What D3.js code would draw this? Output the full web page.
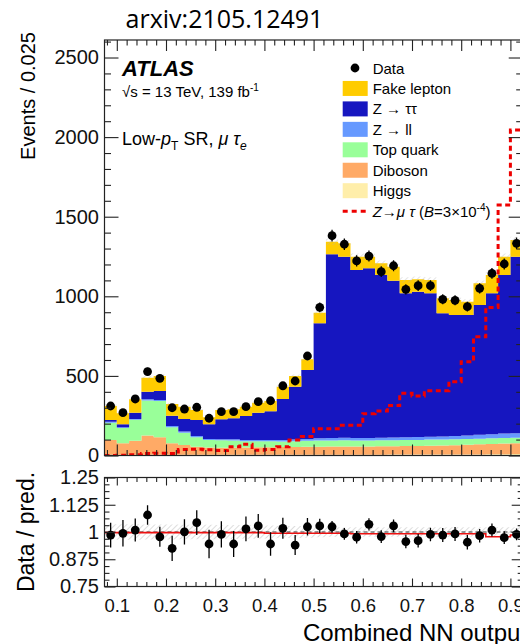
<!DOCTYPE html>
<html>
<head>
<meta charset="utf-8">
<script src="https://cdn.jsdelivr.net/npm/d3@7"></script>
<style>
body { margin: 0; background: #fff; }
svg { display: block; font-family: "Liberation Sans", Arial, sans-serif; }
</style>
</head>
<body>
<svg width="520" height="644"></svg>
<script>
// bins of the combined NN output (low edges, width 0.025)
const binLow = [0.075, 0.1, 0.125, 0.15, 0.175, 0.2, 0.225, 0.25, 0.275, 0.3, 0.325, 0.35, 0.375, 0.4, 0.425, 0.45, 0.475,
	0.5, 0.525, 0.55, 0.575, 0.6, 0.625, 0.65, 0.675, 0.7, 0.725, 0.75, 0.775, 0.8, 0.825, 0.85, 0.875, 0.9];
const binWidth = 0.025;

// stacked backgrounds, bottom to top
const higgs    = [4, 4, 4, 5, 5, 4, 4, 4, 4, 4, 4, 4, 4, 5, 5, 5, 5, 5, 5, 5, 5, 5, 5, 6, 6, 6, 6, 6, 7, 7, 7, 8, 8, 9];
const diboson  = [93, 73, 89, 120, 110, 73, 62, 51, 47, 45, 46, 46, 48, 47, 48, 49, 50, 50, 51, 51, 52, 52, 53, 52, 54, 54, 56, 57, 58, 60, 63, 64, 67, 68];
const topQuark = [108, 95, 131, 220, 227, 101, 77, 60, 47, 47, 45, 40, 38, 38, 35, 36, 37, 39, 39, 40, 38, 38, 38, 38, 38, 38, 38, 37, 37, 37, 36, 36, 35, 35];
const zll      = [7, 5, 5, 8, 7, 7, 7, 7, 6, 6, 7, 7, 7, 8, 10, 10, 11, 14, 15, 16, 15, 15, 16, 17, 17, 18, 18, 20, 20, 22, 24, 26, 28, 28];
const ztt      = [11, 19, 40, 48, 56, 65, 79, 101, 92, 125, 132, 151, 172, 180, 257, 332, 434, 722, 1154, 1137, 1055, 1066, 1022, 985, 904, 913, 901, 773, 761, 757, 815, 885, 996, 1109];
const fake     = [88, 69, 84, 88, 94, 73, 78, 63, 44, 59, 56, 59, 63, 64, 77, 67, 68, 67, 79, 84, 84, 73, 73, 88, 83, 78, 83, 94, 94, 83, 137, 115, 115, 105];

const data = [311, 269, 355, 527, 485, 300, 292, 303, 234, 275, 275, 307, 338, 344, 438, 468, 625, 931, 1381, 1327,
	1222, 1253, 1155, 1192, 1044, 1067, 1067, 981, 975, 935, 1050, 1144, 1203, 1333];

// signal Z->mu tau (B = 3e-4)
const signal = [0, 2, 5, 12, 14, 12, 38, 40, 36, 32, 55, 70, 33, 38, 55, 97, 120, 168, 168, 190,
	190, 263, 280, 314, 391, 374, 407, 407, 464, 589, 746, 930, 1573, 2045];

// ratio panel
const ratio = [0.986, 0.994, 1.009, 1.078, 0.978, 0.925, 1.001, 1.043, 0.945, 0.989, 0.945, 1.014, 1.028, 0.945, 1.017, 0.940, 1.024,
	1.028, 1.024, 0.991, 0.976, 1.035, 0.979, 1.028, 0.956, 0.960, 0.989, 0.986, 0.991, 0.953, 0.983, 1.009, 0.974, 0.989];
const ratioErr = [0.057, 0.061, 0.053, 0.045, 0.046, 0.058, 0.058, 0.057, 0.065, 0.060, 0.060, 0.057, 0.054, 0.054, 0.048, 0.046, 0.040,
	0.033, 0.027, 0.027, 0.029, 0.028, 0.029, 0.029, 0.031, 0.031, 0.031, 0.032, 0.032, 0.033, 0.031, 0.030, 0.029, 0.027];
const bandErr = [0.036, 0.036, 0.035, 0.034, 0.034, 0.034, 0.033, 0.033, 0.033, 0.032, 0.032, 0.031, 0.031, 0.030, 0.028, 0.027, 0.026,
	0.024, 0.022, 0.022, 0.022, 0.022, 0.022, 0.022, 0.022, 0.022, 0.022, 0.022, 0.022, 0.022, 0.022, 0.022, 0.022, 0.022];
const redRatio = [0.997, 0.997, 0.997, 0.997, 0.997, 0.997, 0.997, 0.997, 0.997, 0.997, 0.997, 0.997, 0.997, 0.994, 0.994, 0.994, 0.994,
	0.994, 0.994, 0.994, 0.992, 0.992, 0.992, 0.992, 0.992, 0.992, 0.992, 0.992, 0.992, 0.992, 0.992, 0.978, 0.978, 0.986];

const xTicks = [0.1, 0.2, 0.3, 0.4, 0.5, 0.6, 0.7, 0.8, 0.9];
const xTickLabels = ['0.1', '0.2', '0.3', '0.4', '0.5', '0.6', '0.7', '0.8', '0.9'];
const yTicks = [0, 500, 1000, 1500, 2000, 2500];
const rTicks = [0.75, 0.875, 1, 1.125, 1.25];
const rTickLabels = ['0.75', '0.875', '1', '1.125', '1.25'];

const legendItems = [
	{ key: 'data', label: 'Data' },
	{ key: 'fake', label: 'Fake lepton', color: '#ffcc00' },
	{ key: 'ztt', label: 'Z \u2192 \u03c4\u03c4', color: '#1616c0' },
	{ key: 'zll', label: 'Z \u2192 ll', color: '#6699ff' },
	{ key: 'top', label: 'Top quark', color: '#99ff99' },
	{ key: 'diboson', label: 'Diboson', color: '#ffaa66' },
	{ key: 'higgs', label: 'Higgs', color: '#ffeeaa' },
	{ key: 'signal', label: '' }
];
const colorOf = {};
legendItems.forEach(d => { if (d.color) colorOf[d.key] = d.color; });

const frame = { left: 104.5, right: 522.7, top: 40, bottom: 455.5 };
const rFrame = { top: 477.5, bottom: 586.5 };
const ink = '#222';

const svg = d3.select('svg');

const x = d3.scaleLinear().domain([0.075, 0.925]).range([frame.left, frame.right]);
const y = d3.scaleLinear().domain([0, 2610]).range([frame.bottom, frame.top]);
const yr = d3.scaleLinear().domain([0.75, 1.25]).range([rFrame.bottom, rFrame.top]);

const defs = svg.append('defs');
defs.append('clipPath').attr('id', 'clipMain')
	.append('rect').attr('x', frame.left).attr('y', frame.top)
	.attr('width', frame.right - frame.left).attr('height', frame.bottom - frame.top);
defs.append('clipPath').attr('id', 'clipRatio')
	.append('rect').attr('x', frame.left).attr('y', rFrame.top)
	.attr('width', frame.right - frame.left).attr('height', rFrame.bottom - rFrame.top);
const hatch = defs.append('pattern').attr('id', 'hatch')
	.attr('patternUnits', 'userSpaceOnUse').attr('width', 4).attr('height', 4)
	.attr('patternTransform', 'rotate(45)');
hatch.append('line').attr('x1', 0).attr('y1', 0).attr('x2', 0).attr('y2', 4)
	.attr('stroke', '#b4b4b4').attr('stroke-width', 0.9);

// ---------- main panel ----------
const keys = ['higgs', 'diboson', 'top', 'zll', 'ztt', 'fake'];
const table = binLow.map((lo, i) => ({
	lo, higgs: higgs[i], diboson: diboson[i], top: topQuark[i], zll: zll[i], ztt: ztt[i], fake: fake[i]
}));
const series = d3.stack().keys(keys)(table);

const stepArea = (yScale) => d3.area()
	.x(p => x(p.x)).y0(p => yScale(p.y0)).y1(p => yScale(p.y1));
const steps = (lo, hi) => binLow.flatMap((b, i) => [
	{ x: b, y0: lo(i), y1: hi(i) }, { x: b + binWidth, y0: lo(i), y1: hi(i) }
]);

const main = svg.append('g').attr('clip-path', 'url(#clipMain)');
main.selectAll('path.layer').data(series).enter()
	.append('path')
	.attr('class', 'layer')
	.attr('fill', s => colorOf[s.key])
	.attr('d', s => stepArea(y)(steps(i => s[i][0], i => s[i][1])));

const total = series[series.length - 1].map(d => d[1]);
main.append('path')
	.attr('fill', 'url(#hatch)')
	.attr('opacity', 0.8)
	.attr('d', stepArea(y)(steps(i => total[i] * (1 - bandErr[i] * 0.7), i => total[i] * (1 + bandErr[i] * 0.7))));

const sigLine = d3.line().x(p => x(p[0])).y(p => y(p[1]));
main.append('path')
	.attr('fill', 'none')
	.attr('stroke', '#ee0000')
	.attr('stroke-width', 3)
	.attr('stroke-dasharray', '5,3.5')
	.attr('d', sigLine(signal.flatMap((v, i) => [[binLow[i], v], [binLow[i] + binWidth, v]])));

const dataG = main.append('g');
dataG.selectAll('line').data(data).enter().append('line')
	.attr('x1', (d, i) => x(binLow[i] + binWidth / 2))
	.attr('x2', (d, i) => x(binLow[i] + binWidth / 2))
	.attr('y1', (d, i) => y(d * (1 - ratioErr[i])))
	.attr('y2', (d, i) => y(d * (1 + ratioErr[i])))
	.attr('stroke', '#000').attr('stroke-width', 1.3);
dataG.selectAll('circle').data(data).enter().append('circle')
	.attr('cx', (d, i) => x(binLow[i] + binWidth / 2))
	.attr('cy', d => y(d))
	.attr('r', 4.4)
	.attr('fill', '#000');

// ---------- ratio panel ----------
const ratioG = svg.append('g').attr('clip-path', 'url(#clipRatio)');
ratioG.append('path')
	.attr('fill', 'url(#hatch)')
	.attr('d', stepArea(yr)(steps(i => 1 - bandErr[i], i => 1 + bandErr[i])));
ratioG.append('line')
	.attr('x1', frame.left).attr('x2', frame.right)
	.attr('y1', yr(1)).attr('y2', yr(1))
	.attr('stroke', '#333').attr('stroke-width', 1).attr('stroke-dasharray', '4,3');
const redLine = d3.line().x(p => x(p[0])).y(p => yr(p[1]));
ratioG.append('path')
	.attr('fill', 'none').attr('stroke', '#ee1111').attr('stroke-width', 1.6)
	.attr('d', redLine(redRatio.flatMap((v, i) => [[binLow[i], v], [binLow[i] + binWidth, v]])));
ratioG.selectAll('line.err').data(ratio).enter().append('line')
	.attr('class', 'err')
	.attr('x1', (d, i) => x(binLow[i] + binWidth / 2))
	.attr('x2', (d, i) => x(binLow[i] + binWidth / 2))
	.attr('y1', (d, i) => yr(d - ratioErr[i]))
	.attr('y2', (d, i) => yr(d + ratioErr[i]))
	.attr('stroke', '#000').attr('stroke-width', 1.3);
ratioG.selectAll('circle').data(ratio).enter().append('circle')
	.attr('cx', (d, i) => x(binLow[i] + binWidth / 2))
	.attr('cy', d => yr(d))
	.attr('r', 4.4)
	.attr('fill', '#000');

// ---------- axes ----------
function tickAxis(selection, axis, fontSize) {
	selection.call(axis);
	selection.attr('font-family', null).attr('font-size', null);
	selection.select('.domain').remove();
	selection.selectAll('line').attr('stroke', ink).attr('stroke-width', 1.1);
	selection.selectAll('text').attr('fill', '#111').style('font-size', fontSize + 'px');
}
const xMinor = d3.range(0.08, 0.925, 0.02).filter(v => Math.abs(v * 10 - Math.round(v * 10)) > 1e-6);
const yMinor = d3.range(0, 2610, 100).filter(v => v % 500 !== 0);
const rMinor = d3.range(0.75, 1.2501, 0.03125).filter(v => !rTicks.some(t => Math.abs(t - v) < 1e-6));

const axes = svg.append('g');
// main panel
axes.append('g').attr('transform', `translate(${frame.left},0)`)
	.call(tickAxis, d3.axisLeft(y).tickValues(yTicks).tickSize(-14).tickPadding(5.5).tickFormat(d3.format('d')), 20);
axes.append('g').attr('transform', `translate(${frame.left},0)`)
	.call(tickAxis, d3.axisLeft(y).tickValues(yMinor).tickSize(-6.5).tickFormat(''), 20);
axes.append('g').attr('transform', `translate(${frame.right},0)`)
	.call(tickAxis, d3.axisRight(y).tickValues(yTicks).tickSize(-14).tickFormat(''), 20);
axes.append('g').attr('transform', `translate(${frame.right},0)`)
	.call(tickAxis, d3.axisRight(y).tickValues(yMinor).tickSize(-6.5).tickFormat(''), 20);
axes.append('g').attr('transform', `translate(0,${frame.top})`)
	.call(tickAxis, d3.axisTop(x).tickValues(xTicks).tickSize(-11).tickFormat(''), 18);
axes.append('g').attr('transform', `translate(0,${frame.top})`)
	.call(tickAxis, d3.axisTop(x).tickValues(xMinor).tickSize(-5.5).tickFormat(''), 18);
axes.append('g').attr('transform', `translate(0,${frame.bottom})`)
	.call(tickAxis, d3.axisBottom(x).tickValues(xTicks).tickSize(-11).tickFormat(''), 18);
axes.append('g').attr('transform', `translate(0,${frame.bottom})`)
	.call(tickAxis, d3.axisBottom(x).tickValues(xMinor).tickSize(-5.5).tickFormat(''), 18);
// ratio panel
axes.append('g').attr('transform', `translate(${frame.left},0)`)
	.call(tickAxis, d3.axisLeft(yr).tickValues(rTicks).tickSize(-11).tickPadding(5.5)
		.tickFormat(d => rTickLabels[rTicks.indexOf(d)]), 20);
axes.append('g').attr('transform', `translate(${frame.left},0)`)
	.call(tickAxis, d3.axisLeft(yr).tickValues(rMinor).tickSize(-5).tickFormat(''), 20);
axes.append('g').attr('transform', `translate(${frame.right},0)`)
	.call(tickAxis, d3.axisRight(yr).tickValues(rTicks).tickSize(-11).tickFormat(''), 20);
axes.append('g').attr('transform', `translate(${frame.right},0)`)
	.call(tickAxis, d3.axisRight(yr).tickValues(rMinor).tickSize(-5).tickFormat(''), 20);
axes.append('g').attr('transform', `translate(0,${rFrame.bottom})`)
	.call(tickAxis, d3.axisBottom(x).tickValues(xTicks).tickSize(-8).tickPadding(12)
		.tickFormat(d => xTickLabels[xTicks.indexOf(d)]), 18.5);
axes.append('g').attr('transform', `translate(0,${rFrame.bottom})`)
	.call(tickAxis, d3.axisBottom(x).tickValues(xMinor).tickSize(-4.5).tickFormat(''), 18);
axes.append('g').attr('transform', `translate(0,${rFrame.top})`)
	.call(tickAxis, d3.axisTop(x).tickValues(xTicks).tickSize(-8).tickFormat(''), 18);
axes.append('g').attr('transform', `translate(0,${rFrame.top})`)
	.call(tickAxis, d3.axisTop(x).tickValues(xMinor).tickSize(-4.5).tickFormat(''), 18);

// frames
[[frame.top, frame.bottom], [rFrame.top, rFrame.bottom]].forEach(([t, b]) => {
	svg.append('rect')
		.attr('x', frame.left).attr('y', t)
		.attr('width', frame.right - frame.left).attr('height', b - t)
		.attr('fill', 'none').attr('stroke', ink).attr('stroke-width', 1.2);
});

// ---------- texts ----------
svg.append('text')
	.attr('x', 224.5).attr('y', 28)
	.attr('text-anchor', 'middle')
	.style('font-family', '"Open Sans", sans-serif')
	.style('font-size', '25px')
	.text('arxiv:2105.12491');

svg.append('text')
	.attr('transform', 'translate(35,32) rotate(-90)')
	.attr('text-anchor', 'end')
	.style('font-size', '20px')
	.text('Events / 0.025');

svg.append('text')
	.attr('transform', `translate(34,${yr(1)}) rotate(-90)`)
	.attr('text-anchor', 'middle')
	.style('font-size', '23px')
	.text('Data / pred.');

svg.append('text')
	.attr('x', 527).attr('y', 641)
	.attr('text-anchor', 'end')
	.style('font-size', '24px')
	.text('Combined NN output');

svg.append('text')
	.attr('x', 122).attr('y', 76)
	.style('font-size', '22px').style('font-weight', 'bold').style('font-style', 'italic')
	.text('ATLAS');

const lumi = svg.append('text').attr('x', 122).attr('y', 97).style('font-size', '15px');
lumi.append('tspan').text('\u221As = 13 TeV, 139 fb');
lumi.append('tspan').attr('dy', -6).style('font-size', '10px').text('-1');

const region = svg.append('text').attr('x', 122).attr('y', 145).style('font-size', '18px');
region.append('tspan').text('Low-');
region.append('tspan').style('font-style', 'italic').text('p');
region.append('tspan').attr('dy', 5).style('font-size', '12px').text('T');
region.append('tspan').attr('dy', -5).text(' SR, ');
region.append('tspan').style('font-style', 'italic').text('\u03bc \u03c4');
region.append('tspan').attr('dy', 5).style('font-size', '12px').style('font-style', 'italic').text('e');

// ---------- legend ----------
const legend = svg.append('g');
const rowY = i => 68 + i * 20.45;
const boxX = 342.7;
const textX = 372.7;
legendItems.forEach((d, i) => {
	const cy = rowY(i);
	if (d.key === 'data') {
		legend.append('circle').attr('cx', 355).attr('cy', cy).attr('r', 4.4).attr('fill', '#000');
	} else if (d.key === 'signal') {
		legend.append('line')
			.attr('x1', boxX).attr('x2', boxX + 26).attr('y1', cy).attr('y2', cy)
			.attr('stroke', '#ee0000').attr('stroke-width', 3).attr('stroke-dasharray', '5,4');
	} else {
		legend.append('rect')
			.attr('x', boxX).attr('y', cy - 7.5).attr('width', 25).attr('height', 15)
			.attr('fill', d.color);
	}
	const t = legend.append('text').attr('x', textX).attr('y', cy + 5.5).style('font-size', '15px');
	if (d.key === 'signal') {
		t.append('tspan').style('font-style', 'italic').text('Z');
		t.append('tspan').text('\u2192');
		t.append('tspan').style('font-style', 'italic').text('\u03bc \u03c4');
		t.append('tspan').text(' (');
		t.append('tspan').style('font-style', 'italic').text('B');
		t.append('tspan').text('=3\u00d710');
		t.append('tspan').attr('dy', -6).style('font-size', '10px').text('-4');
		t.append('tspan').attr('dy', 6).text(')');
	} else {
		t.text(d.label);
	}
});
</script>
</body>
</html>
